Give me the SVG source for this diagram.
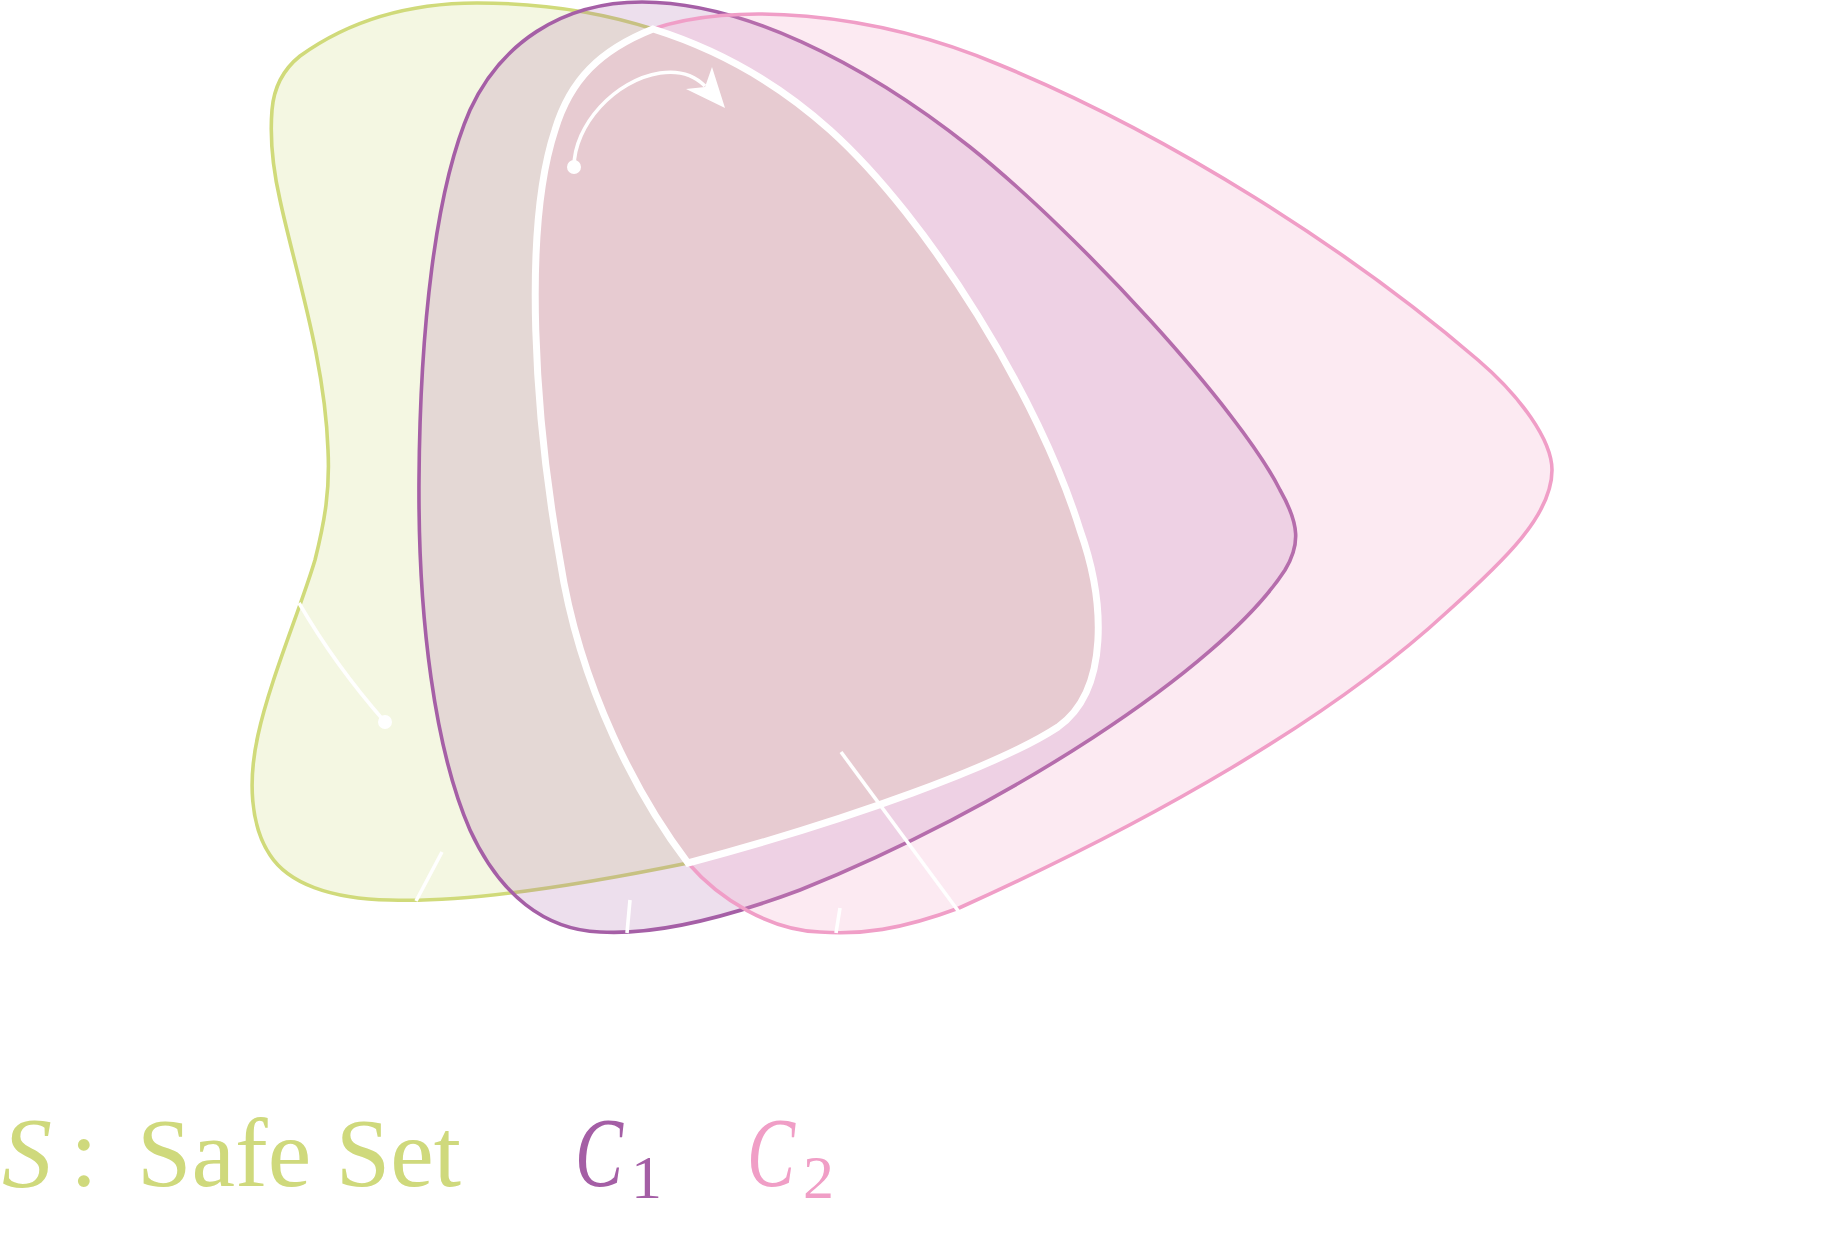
<svg xmlns="http://www.w3.org/2000/svg" width="1845" height="1251" viewBox="0 0 1845 1251">
<style>
.set{stroke-width:3.6;stroke-linejoin:round}
.s{fill:rgba(207,217,124,0.22);stroke:#d0da7a}
.c1{fill:rgba(164,94,165,0.2);stroke:#a55fa6}
.c2{fill:rgba(240,158,198,0.22);stroke:#f09ec7}
.wthick{fill:none;stroke:#fff;stroke-width:7;stroke-linejoin:miter}
.lead{fill:none;stroke:#fff;stroke-width:3.6}
.dot{fill:#fff}
.lg{font-family:"Liberation Serif","DejaVu Serif",serif}
</style>
<g id="node-S">
<path class="set s" d="M 272,110 C 274,85 285,68 300,56 C 350,20 410,3 477,3 C 540,3 600,12 653,29 C 720,50 780,85 830,130 C 930,220 1040,400 1080,530 C 1105,600 1110,690 1058,727 C 1000,765 850,820 688,863 C 580,885 470,903 390,900 C 330,899 288,883 270,855 C 250,825 248,780 258,735 C 270,680 300,610 315,560 C 325,520 330,490 328,450 C 325,360 295,270 280,200 C 272,165 270,135 272,110 Z"/>
</g>
<g id="node-C1">
<path class="set c1" d="M 642,2 C 740,2 860,60 970,147 C 1080,235 1240,410 1280,490 C 1300,525 1300,545 1285,570 C 1220,670 1000,810 800,890 C 720,920 650,935 600,932 C 545,930 500,895 470,830 C 435,750 418,620 419,480 C 420,330 435,190 470,110 C 500,45 560,2 642,2 Z"/>
</g>
<g id="node-C2">
<path class="set c2" d="M 653,29 C 730,2 870,10 1000,65 C 1170,135 1350,250 1478,360 C 1520,396 1552,440 1552,470 C 1552,515 1505,560 1447,612 C 1330,720 1150,822 959,908 C 900,930 860,935 820,932 C 770,930 720,900 688,863 C 640,800 580,690 560,560 C 535,420 522,230 555,130 C 570,80 600,50 653,29 Z"/>
</g>
<g id="connectors">
<path id="boundary-S-cap-C2" class="wthick" d="M 653,29 C 720,50 780,85 830,130 C 930,220 1040,400 1080,530 C 1105,600 1110,690 1058,727 C 1000,765 850,820 688,863 C 640,800 580,690 560,560 C 535,420 522,230 555,130 C 570,80 600,50 653,29 Z"/>
<g id="trajectory">
<path class="lead" d="M 574,167 C 574,125 615,80 660,73 C 680,70 695,76 705,86"/>
<polygon class="dot" points="725,108 686,89 705,87 712,67"/>
<circle class="dot" cx="574" cy="167" r="7"/>
</g>
<g id="leaders">
<path class="lead" d="M 299,603 Q 335,665 385,722"/>
<circle class="dot" cx="385" cy="722" r="7"/>
<line class="lead" x1="442" y1="852" x2="416" y2="901"/>
<line class="lead" x1="630" y1="900" x2="627" y2="933"/>
<line class="lead" x1="841" y1="752" x2="959" y2="912"/>
<line class="lead" x1="840" y1="908" x2="836" y2="933"/>
</g>
</g>
<g id="legend" class="lg">
<text x="2" y="1186" font-size="100" font-style="italic" fill="#cfd97c">S</text>
<text x="70" y="1186" font-size="100" fill="#cfd97c">:</text>
<text x="137" y="1186" font-size="98" fill="#cfd97c" textLength="324" lengthAdjust="spacingAndGlyphs">Safe Set</text>
<text x="575" y="1186" font-size="100" fill="#a45ea5"><tspan font-style="italic" textLength="48" lengthAdjust="spacingAndGlyphs">C</tspan><tspan x="631" y="1198" font-size="62">1</tspan></text>
<text x="747" y="1186" font-size="100" fill="#f09ec6"><tspan font-style="italic" textLength="48" lengthAdjust="spacingAndGlyphs">C</tspan><tspan x="803" y="1198" font-size="62">2</tspan></text>
</g>
</svg>
